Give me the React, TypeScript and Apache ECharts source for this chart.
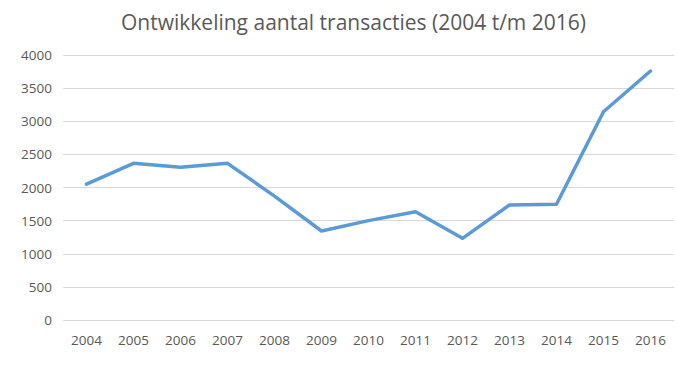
import React, { useEffect, useRef } from "react";
import * as echarts from "echarts";

const categories = ["2004","2005","2006","2007","2008","2009","2010","2011","2012","2013","2014","2015","2016"];
const transactions = [2050, 2365, 2305, 2365, 1870, 1343, 1500, 1635, 1233, 1736, 1746, 3144, 3758];
const titleText = "Ontwikkeling aantal transacties (2004 t/m 2016)";

export default function App() {
  const ref = useRef<HTMLDivElement>(null);
  useEffect(() => {
    document.body.style.margin = "0";
    const chart = echarts.init(ref.current!, null, { renderer: "svg" });
    chart.setOption({
      animation: false,
      backgroundColor: "#ffffff",
      title: {
        text: titleText,
        left: 116,
        top: 6,
        textStyle: { fontFamily: "Open Sans", fontSize: 21, fontWeight: "normal", color: "#595959" },
      },
      grid: { left: 63, right: 3, top: 55, bottom: 51 },
      xAxis: {
        type: "category",
        data: categories,
        boundaryGap: true,
        axisLine: { show: false },
        axisTick: { show: false },
        axisLabel: { color: "#595959", fontFamily: "Open Sans", fontSize: 13.5, margin: 13 },
      },
      yAxis: {
        type: "value",
        min: 0,
        max: 4000,
        interval: 500,
        axisLine: { show: false },
        axisTick: { show: false },
        axisLabel: {
          color: "#595959",
          fontFamily: "Open Sans",
          fontSize: 13.5,
          margin: 11,
          formatter: (v: number) => String(v),
        },
        splitLine: { lineStyle: { color: "#d9d9d9", width: 1 } },
      },
      series: [
        {
          type: "line",
          data: transactions,
          symbol: "none",
          lineStyle: { color: "#5b9bd5", width: 3.5, cap: "round", join: "round" },
          itemStyle: { color: "#5b9bd5" },
        },
      ],
    });
    return () => chart.dispose();
  }, []);
  return <div ref={ref} style={{ width: 677, height: 371 }} />;
}
